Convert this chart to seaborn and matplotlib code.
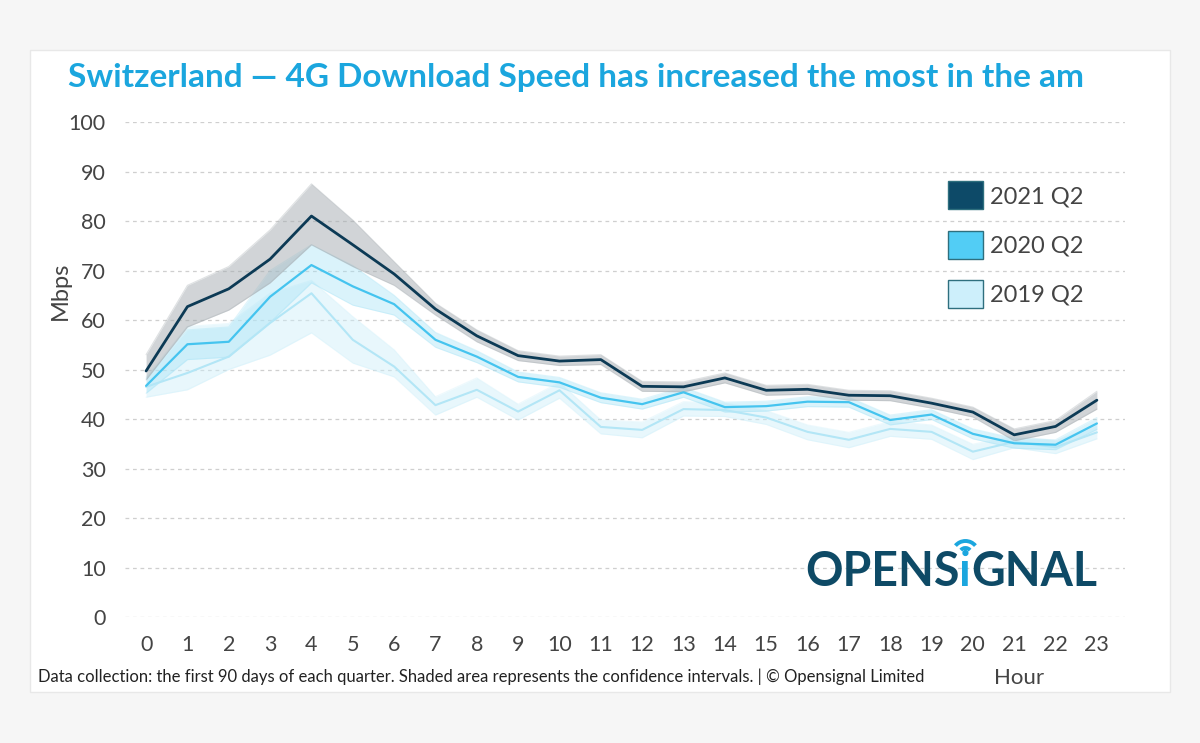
import matplotlib
matplotlib.use("Agg")
import matplotlib.pyplot as plt
import seaborn as sns
import pandas as pd
from matplotlib.patches import Patch, Rectangle, Arc

hours = list(range(24))
xtick_labels = [str(h) for h in hours]
yticks = [0, 10, 20, 30, 40, 50, 60, 70, 80, 90, 100]
series_names = ["2021 Q2", "2020 Q2", "2019 Q2"]

s2021 = [49.7, 62.7, 66.3, 72.3, 81.0, 75.2, 69.3, 62.2, 56.8, 52.8, 51.7, 52.0,
         46.6, 46.5, 48.3, 45.8, 46.0, 44.8, 44.7, 43.2, 41.4, 36.8, 38.5, 43.8]
lo2021 = [47.9, 58.6, 62.0, 67.5, 75.2, 70.8, 67.0, 61.0, 55.6, 51.8, 50.8, 51.0,
          45.6, 45.5, 47.3, 44.8, 45.0, 43.8, 43.7, 42.2, 40.4, 35.6, 37.3, 42.0]
hi2021 = [53.0, 67.0, 70.8, 78.2, 87.5, 80.2, 71.8, 63.4, 58.0, 53.8, 52.7, 53.0,
          47.6, 47.5, 49.3, 46.8, 47.0, 45.8, 45.7, 44.2, 42.4, 38.0, 39.7, 45.6]

s2020 = [46.7, 55.1, 55.6, 64.7, 71.1, 66.8, 63.2, 56.0, 52.6, 48.5, 47.4, 44.3,
         43.0, 45.4, 42.4, 42.6, 43.5, 43.4, 39.8, 40.9, 37.0, 35.1, 34.8, 39.1]
lo2020 = [45.2, 52.0, 52.5, 59.5, 67.5, 63.0, 61.0, 54.5, 51.4, 47.5, 46.4, 43.3,
          42.0, 44.4, 41.4, 41.6, 42.5, 42.4, 38.8, 39.9, 36.0, 34.1, 33.8, 37.9]
hi2020 = [48.2, 58.0, 58.6, 70.0, 75.2, 71.0, 65.0, 57.5, 53.8, 49.5, 48.4, 45.3,
          44.0, 46.4, 43.4, 43.6, 44.5, 44.4, 40.8, 41.9, 38.0, 36.1, 35.8, 40.3]

s2019 = [46.5, 49.3, 52.6, 59.4, 65.4, 56.0, 50.6, 42.8, 45.9, 41.5, 45.8, 38.4,
         37.8, 42.0, 41.8, 40.3, 37.4, 35.8, 38.0, 37.4, 33.4, 35.4, 34.3, 37.3]
lo2019 = [44.4, 45.9, 50.0, 52.9, 57.4, 51.3, 48.5, 40.8, 44.4, 39.8, 44.2, 37.0,
          36.2, 40.6, 40.5, 38.9, 35.8, 34.2, 36.5, 35.9, 31.8, 34.2, 33.0, 36.0]
hi2019 = [48.5, 58.7, 59.3, 65.4, 68.0, 60.7, 54.0, 44.5, 48.3, 43.0, 47.4, 39.8,
          39.4, 43.5, 43.2, 41.7, 38.8, 37.3, 39.5, 38.8, 34.9, 36.6, 35.6, 38.6]

line_colors = {"2021 Q2": "#0c3a55", "2020 Q2": "#45c4ef", "2019 Q2": "#b3e6f6"}
band_colors = {"2021 Q2": "#a4abb0", "2020 Q2": "#a3e2f6", "2019 Q2": "#cdeffa"}
legend_colors = {"2021 Q2": "#0d4a68", "2020 Q2": "#52cdf5", "2019 Q2": "#cdeffb"}

sns.set_theme(style="white")
plt.rcParams["font.family"] = ["Lato", "DejaVu Sans"]

W, H = 1200, 743
fig = plt.figure(figsize=(W / 100, H / 100), dpi=100)
fig.patch.set_facecolor("#f6f6f6")
fig.patches.append(Rectangle((30 / W, 1 - 692 / H), 1140 / W, 642 / H,
                             transform=fig.transFigure, facecolor="white",
                             edgecolor="#e8e8e8", linewidth=1, zorder=-5))

ax = fig.add_axes([125 / W, 1 - 617 / H, 1000 / W, 495 / H])
ax.set_facecolor("none")

df = pd.DataFrame({
    "hour": hours * 3,
    "speed": s2021 + s2020 + s2019,
    "series": ["2021 Q2"] * 24 + ["2020 Q2"] * 24 + ["2019 Q2"] * 24,
})

bands = {"2019 Q2": (lo2019, hi2019), "2020 Q2": (lo2020, hi2020), "2021 Q2": (lo2021, hi2021)}
band_alpha = {"2019 Q2": 0.45, "2020 Q2": 0.4, "2021 Q2": 0.5}
for i, name in enumerate(["2019 Q2", "2020 Q2", "2021 Q2"]):
    lo, hi = bands[name]
    ax.fill_between(hours, lo, hi, color=band_colors[name], alpha=band_alpha[name],
                    linewidth=0, zorder=1 + i)
    ax.plot(hours, lo, color=band_colors[name], alpha=0.35, linewidth=0.8, zorder=1 + i)
    ax.plot(hours, hi, color=band_colors[name], alpha=0.35, linewidth=0.8, zorder=1 + i)

widths = {"2019 Q2": 1.5, "2020 Q2": 1.6, "2021 Q2": 2.0}
for name in ["2019 Q2", "2020 Q2", "2021 Q2"]:
    sub = df[df["series"] == name]
    sns.lineplot(data=sub, x="hour", y="speed", color=line_colors[name],
                 linewidth=widths[name], ax=ax, legend=False, zorder=6)

ax.set_xlim(-0.51, 23.68)
ax.set_ylim(0, 100)
ax.set_xticks(hours)
ax.set_xticklabels(xtick_labels)
ax.set_yticks(yticks)
ax.tick_params(axis="both", length=0, labelsize=15.5, colors="#444444")
ax.tick_params(axis="x", pad=13)
ax.tick_params(axis="y", pad=14)
ax.grid(axis="y", color="#cfcfcf", linestyle=(0, (3, 3)), linewidth=0.9)
ax.grid(axis="x", visible=False)
for sp in ax.spines.values():
    sp.set_visible(False)
ax.set_xlabel("")
ax.set_ylabel("")

handles = [Patch(facecolor=legend_colors[n], edgecolor="#2e6f7e", linewidth=1) for n in series_names]
leg = fig.legend(handles, series_names, loc="upper left",
                 bbox_to_anchor=(939 / W, 1 - 172 / H), frameon=False,
                 fontsize=17, handlelength=1.45, handleheight=1.45,
                 labelspacing=0.9, handletextpad=0.3, borderaxespad=0)
for t in leg.get_texts():
    t.set_color("#444444")

fig.text(68 / W, 1 - 78 / H, "Switzerland — 4G Download Speed has increased the most in the am",
         fontsize=24, fontweight="bold", color="#1ba6de", va="center", ha="left")
fig.text(60 / W, 1 - 291 / H, "Mbps", rotation=90, fontsize=17, color="#444444",
         va="center", ha="center")
fig.text(1019 / W, 1 - 678 / H, "Hour", fontsize=16, color="#444444", va="center", ha="center")
fig.text(38 / W, 1 - 677 / H,
         "Data collection: the first 90 days of each quarter. Shaded area represents the confidence intervals. | © Opensignal Limited",
         fontsize=12, color="#222222", va="center", ha="left")

# Opensignal wordmark
logo_y = 1 - 572 / H
logo_kw = dict(fontsize=33.5, fontweight="bold", va="center", ha="left")
fig.canvas.draw()
r = fig.canvas.get_renderer()
t1 = fig.text(805 / W, logo_y, "OPENS", color="#0e4a66", **logo_kw)
bb1 = t1.get_window_extent(r)
t2 = fig.text(bb1.x1 / W, logo_y, "ı", color="#1ba6de", **logo_kw)
bb2 = t2.get_window_extent(r)
t3 = fig.text(bb2.x1 / W, logo_y, "GNAL", color="#0e4a66", **logo_kw)
over = fig.add_axes([0, 0, 1, 1], zorder=10)
over.set_xlim(0, W)
over.set_ylim(0, H)
over.axis("off")
over.patch.set_visible(False)
cx = (bb2.x0 + bb2.x1) / 2
cy = bb2.y1 - 4
for rad in (6, 13):
    over.add_patch(Arc((cx, cy), 2 * rad, 2 * rad, theta1=40, theta2=140,
                       color="#1ba6de", linewidth=2.8))
over.add_patch(plt.Circle((cx, cy + 1), 2.4, color="#1ba6de"))

fig.savefig("out.png", dpi=100, facecolor=fig.get_facecolor())
